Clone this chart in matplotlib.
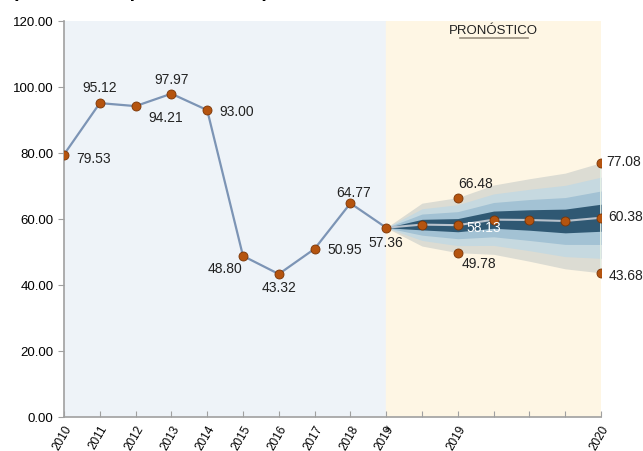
import matplotlib
matplotlib.use("Agg")
import matplotlib.pyplot as plt
import numpy as np

plt.rcParams['font.family'] = ['Liberation Sans', 'DejaVu Sans']

# datos historicos
years = ["2010", "2011", "2012", "2013", "2014", "2015", "2016", "2017", "2018", "2019"]
hist = [79.53, 95.12, 94.21, 97.97, 93.00, 48.80, 43.32, 50.95, 64.77, 57.36]

# pronostico (posiciones 9..15)
fc_labels = ["", "2019", "", "", "", "2020"]
fc_mid = [57.36, 58.30, 58.13, 59.80, 59.70, 59.40, 60.38]
# semiamplitud de cada banda del abanico, de la interior a la exterior
band1 = [0, 1.6, 2.0, 2.6, 3.1, 3.6, 4.1]
band2 = [0, 3.2, 4.1, 5.2, 6.2, 7.1, 8.1]
band3 = [0, 4.8, 6.2, 7.8, 9.3, 10.8, 12.3]
band4 = [0, 6.5, 8.35, 10.5, 12.5, 14.5, 16.7]
fc_hi_pts = [66.48, 77.08]
fc_lo_pts = [49.78, 43.68]

band_colors = ["#2f5873", "#a3c2d4", "#c6d9e0", "#dcdcd3"]

fig = plt.figure(figsize=(6.43, 4.52), dpi=100)
ax = fig.add_axes([64/643, 34/452, 537/643, 396/452])

n_hist = len(hist)
xh = np.arange(n_hist)
xf = np.arange(n_hist - 1, n_hist - 1 + len(fc_mid))
xmax = xf[-1]

ax.axvspan(0, n_hist - 1, color="#eef3f8", zorder=0)
ax.axvspan(n_hist - 1, xmax, color="#fef6e4", zorder=0)

mid = np.array(fc_mid)
bands = [band4, band3, band2, band1]
for b, c in zip(bands, band_colors[::-1]):
    b = np.array(b)
    ax.fill_between(xf, mid - b, mid + b, color=c, lw=0, zorder=1)
ax.vlines(xmax, mid[-1] - band4[-1], mid[-1] + band4[-1], color="#e6f2e6", lw=2, zorder=1.5)

ax.plot(xf, fc_mid, color="#b8c2cc", lw=1.5, zorder=2)
ax.plot(xh, hist, color="#7c94b5", lw=1.6, zorder=2)

mk = dict(marker="o", ls="none", ms=6.5, mfc="#b5540f", mec="#7a3506", mew=0.6, zorder=3)
ax.plot(xh, hist, **mk)
ax.plot(xf[1:], fc_mid[1:], **mk)
ax.plot([xf[2], xf[-1]], fc_hi_pts, **mk)
ax.plot([xf[2], xf[-1]], fc_lo_pts, **mk)

fs = 10
tk = dict(fontsize=fs, color="#222222", zorder=4)
# etiquetas historicas
ax.text(0.35, 78.5, f"{hist[0]:.2f}", ha="left", va="center", **tk)
ax.text(1, 100.0, f"{hist[1]:.2f}", ha="center", va="center", **tk)
ax.text(2.35, 91.0, f"{hist[2]:.2f}", ha="left", va="center", **tk)
ax.text(3, 102.5, f"{hist[3]:.2f}", ha="center", va="center", **tk)
ax.text(4.35, 92.8, f"{hist[4]:.2f}", ha="left", va="center", **tk)
ax.text(4.5, 45.3, f"{hist[5]:.2f}", ha="center", va="center", **tk)
ax.text(6, 39.3, f"{hist[6]:.2f}", ha="center", va="center", **tk)
ax.text(7.35, 50.9, f"{hist[7]:.2f}", ha="left", va="center", **tk)
ax.text(8.1, 68.3, f"{hist[8]:.2f}", ha="center", va="center", **tk)
ax.text(9.0, 53.0, f"{hist[9]:.2f}", ha="center", va="center", **tk)
# etiquetas pronostico
ax.text(11.5, 70.9, f"{fc_hi_pts[0]:.2f}", ha="center", va="center", **tk)
ax.text(11.25, 57.6, f"{fc_mid[2]:.2f}", ha="left", va="center", fontsize=fs, color="white", zorder=4)
ax.text(11.6, 46.7, f"{fc_lo_pts[0]:.2f}", ha="center", va="center", **tk)
ax.text(15.15, 77.6, f"{fc_hi_pts[1]:.2f}", ha="left", va="center", clip_on=False, **tk)
ax.text(15.2, 61.0, f"{fc_mid[-1]:.2f}", ha="left", va="center", clip_on=False, **tk)
ax.text(15.2, 43.0, f"{fc_lo_pts[1]:.2f}", ha="left", va="center", clip_on=False, **tk)

ax.text(12.0, 117.3, "PRONÓSTICO", ha="center", va="center", fontsize=9.5, color="#222222", zorder=4)
ax.plot([11.05, 12.95], [114.9, 114.9], color="#9a9080", lw=1.2, zorder=4)

ax.set_xlim(0, xmax)
ax.set_ylim(0, 120)
ax.set_yticks(np.arange(0, 121, 20))
ax.set_yticklabels([f"{v:.2f}" for v in np.arange(0, 121, 20)], fontsize=9.5)
ax.set_xticks(np.arange(xmax + 1))
ax.set_xticklabels(years + fc_labels, rotation=60, fontsize=8.5, ha="right",
                   rotation_mode="anchor")
ax.tick_params(axis="x", direction="in", length=4, color="#a0a0a0", pad=4)
ax.tick_params(axis="y", direction="out", length=4, color="#a0a0a0")
# nota "a/" junto a 2019
ax.annotate("a/", xy=(n_hist - 1, 0), xytext=(2, -4), textcoords="offset points",
            fontsize=5.5, rotation=60, ha="center", va="top", annotation_clip=False)

for s in ["top", "right"]:
    ax.spines[s].set_visible(False)
for s in ["left", "bottom"]:
    ax.spines[s].set_color("#a0a0a0")
    ax.spines[s].set_linewidth(1.2)

# titulo recortado en el borde superior, como en la imagen original
fig.text(12/643, 1 + 3/452, "(Millones de pesos de 2019)", fontsize=14, fontweight="bold",
         ha="left", va="baseline")

fig.savefig("out.png", dpi=100)
